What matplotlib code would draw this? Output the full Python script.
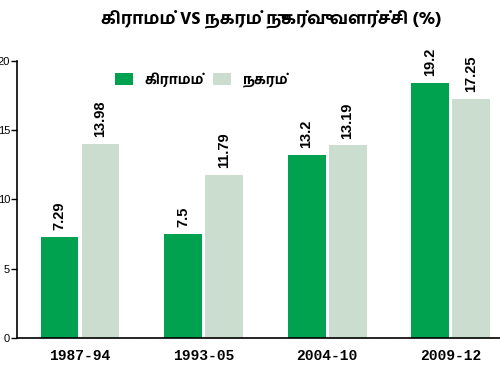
import matplotlib
matplotlib.use("Agg")
import matplotlib.pyplot as plt
import numpy as np

periods = ["1987-94", "1993-05", "2004-10", "2009-12"]
rural = [7.29, 7.5, 13.2, 18.4]          # bar heights as drawn
urban = [13.98, 11.79, 13.9, 17.25]
rural_lbl = ["7.29", "7.5", "13.2", "19.2"]   # labels as printed
urban_lbl = ["13.98", "11.79", "13.19", "17.25"]
series = ["கிராமம்", "நகரம்"]
title = "கிராமம் VS நகரம் நுகர்வு வளர்ச்சி (%)"

tamil = ["Hind Madurai", "DejaVu Sans"]
green = "#00A14F"
light = "#CADDCF"

fig = plt.figure(figsize=(5, 3.65), dpi=100)
ax = fig.add_axes([0.034, 0.074, 0.966, 0.759])

x = np.arange(len(periods))
w = 0.307
b1 = ax.bar(x - 0.166, rural, w, color=green, label=series[0])
b2 = ax.bar(x + 0.166, urban, w, color=light, label=series[1])

for bars, labels in ((b1, rural_lbl), (b2, urban_lbl)):
    for rect, t in zip(bars, labels):
        ax.annotate(t, (rect.get_x() + rect.get_width() / 2, rect.get_height()),
                    xytext=(0, 5), textcoords="offset points",
                    rotation=90, ha="center", va="bottom",
                    fontsize=10.5, family="Liberation Sans", fontweight="bold")

ax.set_xlim(-0.51, 3.40)
ax.set_ylim(0, 20)
ax.set_yticks([0, 5, 10, 15, 20])
ax.set_xticks(x)
ax.set_xticklabels(periods, family="Liberation Mono", fontweight="bold", fontsize=10.5)
ax.tick_params(axis="x", length=0, pad=8)
ax.tick_params(axis="y", length=4, width=1, pad=1, labelsize=8)
for lbl in ax.get_yticklabels():
    lbl.set_family("Liberation Sans")
for s in ("top", "right"):
    ax.spines[s].set_visible(False)
ax.spines["left"].set_linewidth(1.2)
ax.spines["bottom"].set_linewidth(1.2)

fig.legend(loc="center left", bbox_to_anchor=(115 / 500, 1 - 80 / 365), ncol=2,
           frameon=False, borderpad=0, borderaxespad=0,
           handlelength=1.3, handleheight=1.0, handletextpad=0.85, columnspacing=0.6,
           prop={"family": tamil, "weight": "bold", "size": 10})

fig.text(271 / 500, 1 - 20 / 365, title, ha="center", va="center",
         fontsize=12.5, fontweight="bold", family=tamil)

fig.savefig("out.png")
